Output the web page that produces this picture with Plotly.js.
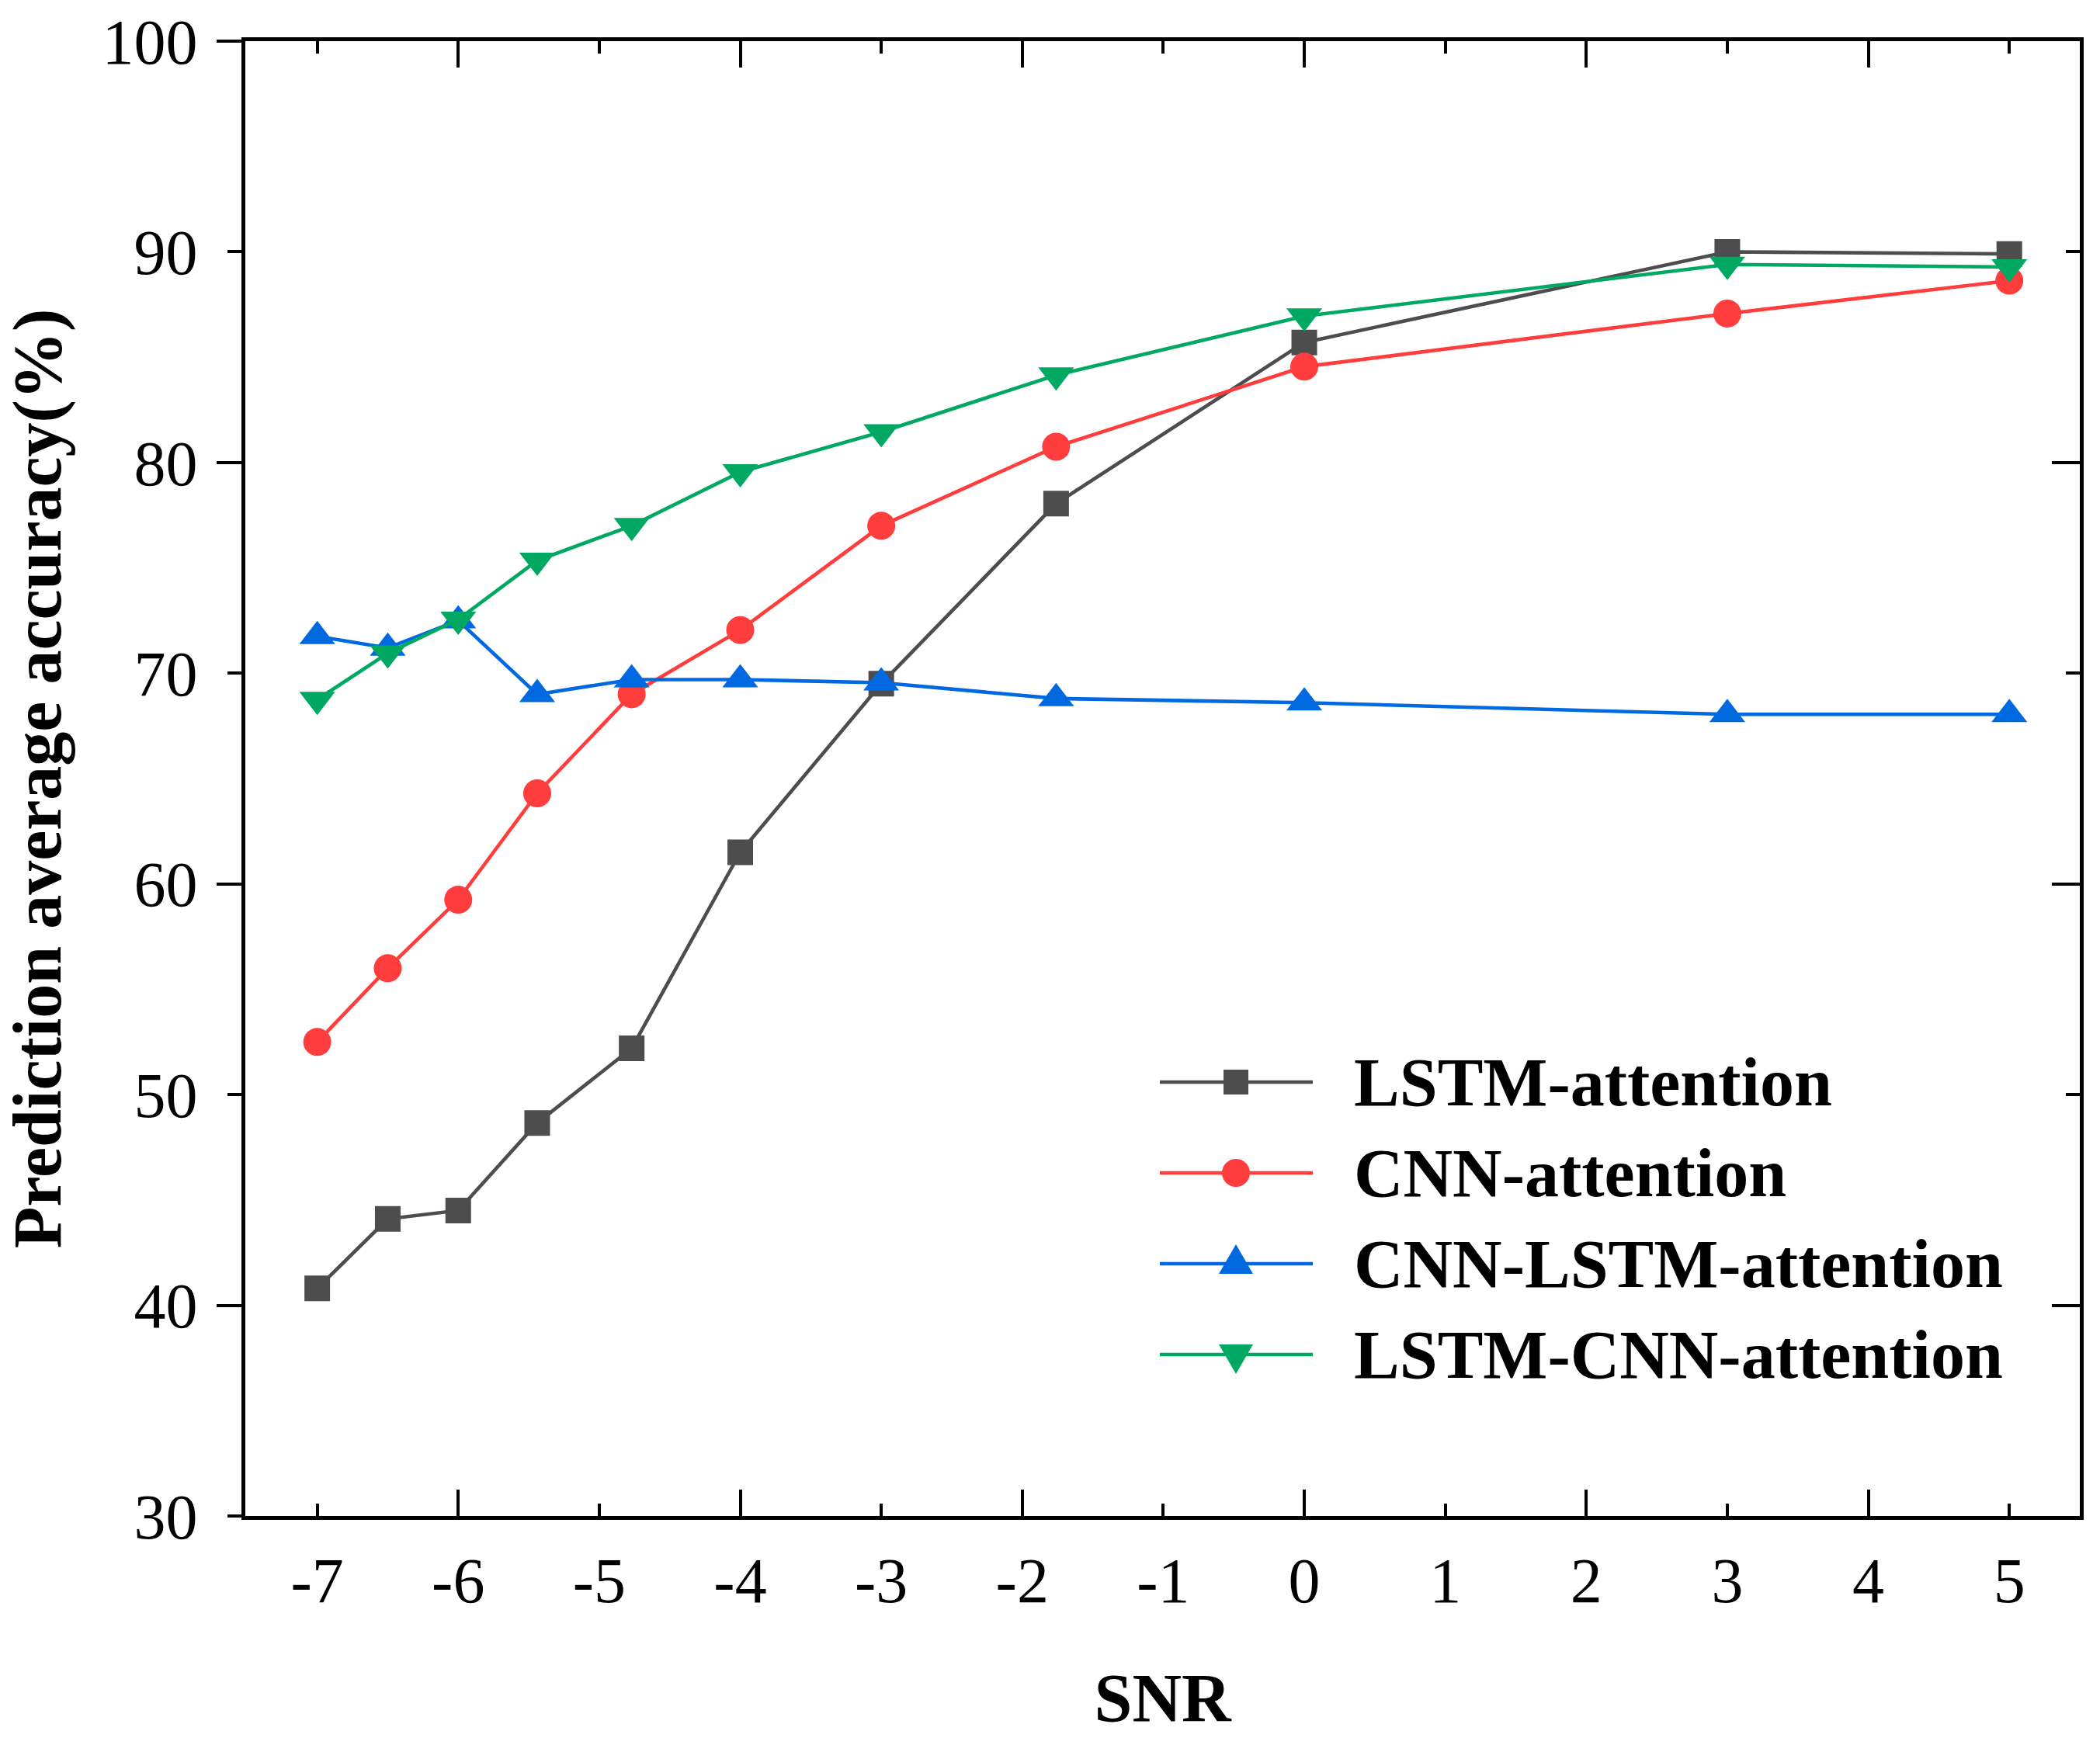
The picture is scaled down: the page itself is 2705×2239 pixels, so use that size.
<!DOCTYPE html>
<html><head><meta charset="utf-8">
<script src="https://cdn.plot.ly/plotly-3.0.1.min.js"></script>
<style>html,body{margin:0;padding:0;background:#fff}#chart{width:2705px;height:2239px}</style>
</head><body><div id="chart"></div>
<script>
const snr = [-7, -6.5, -6, -5.44, -4.77, -4, -3, -1.76, 0, 3, 5];
const lstmAttention   = [40.8, 44.1, 44.5, 48.65, 52.2, 61.5, 69.5, 78.05, 85.7, 90.0, 89.9];
const cnnAttention    = [52.5, 56.0, 59.25, 64.3, 69.0, 72.05, 77.0, 80.75, 84.55, 87.07, 88.63];
const cnnLstmAttention= [71.75, 71.2, 72.5, 69.0, 69.7, 69.7, 69.55, 68.8, 68.6, 68.05, 68.05];
const lstmCnnAttention= [68.75, 70.95, 72.55, 75.35, 77.0, 79.55, 81.45, 84.15, 86.95, 89.4, 89.28];
const seriesNames = ['LSTM-attention', 'CNN-attention', 'CNN-LSTM-attention', 'LSTM-CNN-attention'];
const xTickVals = [-7,-6,-5,-4,-3,-2,-1,0,1,2,3,4,5];
const xTickText = ['-7','-6','-5','-4','-3','-2','-1','0','1','2','3','4','5'];
const yTickVals = [30,40,50,60,70,80,90,100];

const colors = ['#4d4d4d', '#ff3d3d', '#0069e0', '#00a862'];
const symbols = ['square', 'circle', 'triangle-up', 'triangle-down'];
const sizes = [33, 36, 40, 40];
const ys = [lstmAttention, cnnAttention, cnnLstmAttention, lstmCnnAttention];

const traces = ys.map((y, i) => ({
  x: snr, y: y, name: seriesNames[i], type: 'scatter', mode: 'lines+markers',
  line: {color: colors[i], width: 4.6},
  marker: {symbol: symbols[i], size: sizes[i], color: colors[i], line: {width: 0}},
  xaxis: 'x', yaxis: 'y', showlegend: false
}));

// ---- custom legend key (long lines + full-size markers, as in the original) ----
const W = 2705, H = 2239, M = {l: 316, r: 26, t: 53, b: 286};
const pw = W - M.l - M.r, ph = H - M.t - M.b;
const px = X => (X - M.l) / pw;           // pixel -> paper x
const py = Y => (H - M.b - Y) / ph;       // pixel -> paper y
const leg = {lineX0: 1494, lineX1: 1691, markX: 1592, textX: 1742, row0: 1394, rowGap: 117};
const markerPaths = [
  null, null,
  'M-22,-13 L22,-13 L0,25 Z',
  'M-22,13 L22,13 L0,-25 Z'
];
const shapes = [], annotations = [];
seriesNames.forEach((nm, i) => {
  const yc = py(leg.row0 + i * leg.rowGap);
  shapes.push({type: 'line', xref: 'paper', yref: 'paper', x0: px(leg.lineX0), x1: px(leg.lineX1), y0: yc, y1: yc,
               line: {color: colors[i], width: 4.6}});
  const base = {xref: 'paper', yref: 'paper', xsizemode: 'pixel', ysizemode: 'pixel',
                xanchor: px(leg.markX), yanchor: yc, fillcolor: colors[i], line: {width: 0}};
  if (i === 0) shapes.push(Object.assign({type: 'rect', x0: -16, x1: 16, y0: -16, y1: 16}, base));
  else if (i === 1) shapes.push(Object.assign({type: 'circle', x0: -18, x1: 18, y0: -18, y1: 18}, base));
  else shapes.push(Object.assign({type: 'path', path: markerPaths[i]}, base));
  annotations.push({xref: 'paper', yref: 'paper', x: px(leg.textX), y: yc, xanchor: 'left', yanchor: 'middle',
                    showarrow: false, text: nm,
                    font: {family: 'Liberation Serif, Times New Roman, serif', size: 88, color: '#000', weight: 'bold'}});
});

const font = 'Liberation Serif, Times New Roman, serif';
const xr = [-7.51, 5.5], yr = [30, 100];
const layout = {
  width: W, height: H,
  margin: M,
  paper_bgcolor: '#fff', plot_bgcolor: '#fff',
  font: {family: font, color: '#000'},
  showlegend: false,
  shapes: shapes, annotations: annotations,
  xaxis: {
    range: xr, tickvals: xTickVals, ticktext: xTickText,
    ticks: 'inside', ticklen: 16, tickwidth: 4, tickcolor: '#000',
    showline: true, linewidth: 5, linecolor: '#000', mirror: 'ticks',
    showgrid: false, zeroline: false,
    tickfont: {family: font, size: 82, color: '#000'},
    ticklabelstandoff: 8,
    title: {text: 'SNR', font: {family: font, size: 88, color: '#000', weight: 'bold'}, standoff: 75}
  },
  xaxis2: {
    range: xr, overlaying: 'x', anchor: 'y', side: 'bottom',
    tickmode: 'linear', tick0: -6, dtick: 2,
    ticks: 'inside', ticklen: 34, tickwidth: 4, tickcolor: '#000',
    showticklabels: false, showline: false, mirror: 'ticks',
    showgrid: false, zeroline: false
  },
  yaxis: {
    range: yr, tickvals: yTickVals,
    ticks: 'outside', ticklen: 18, tickwidth: 4, tickcolor: '#000',
    showline: true, linewidth: 5, linecolor: '#000',
    showgrid: false, zeroline: false,
    tickfont: {family: font, size: 82, color: '#000'},
    ticklabelstandoff: 22,
    title: {text: 'Prediction average accuracy(%)', font: {family: font, size: 88, color: '#000', weight: 'bold'}, standoff: 30}
  },
  yaxis2: {
    range: yr, overlaying: 'y', anchor: 'x', side: 'left',
    tickmode: 'linear', tick0: 40, dtick: 20,
    ticks: 'outside', ticklen: 36, tickwidth: 4, tickcolor: '#000',
    showticklabels: false, showline: false, showgrid: false, zeroline: false
  },
  yaxis3: {
    range: yr, overlaying: 'y', anchor: 'x', side: 'right',
    tickmode: 'linear', tick0: 30, dtick: 10,
    ticks: 'inside', ticklen: 18, tickwidth: 4, tickcolor: '#000',
    showticklabels: false, showline: true, linewidth: 5, linecolor: '#000',
    showgrid: false, zeroline: false
  },
  yaxis4: {
    range: yr, overlaying: 'y', anchor: 'x', side: 'right',
    tickmode: 'linear', tick0: 40, dtick: 20,
    ticks: 'inside', ticklen: 36, tickwidth: 4, tickcolor: '#000',
    showticklabels: false, showline: false, showgrid: false, zeroline: false
  }
};
const helpers = [['x2','y'],['x','y2'],['x','y3'],['x','y4']].map(a => ({
  x: [null], y: [null], xaxis: a[0], yaxis: a[1], type: 'scatter', mode: 'markers',
  showlegend: false, hoverinfo: 'skip'
}));
Plotly.newPlot('chart', traces.concat(helpers), layout, {staticPlot: true});
</script></body></html>
